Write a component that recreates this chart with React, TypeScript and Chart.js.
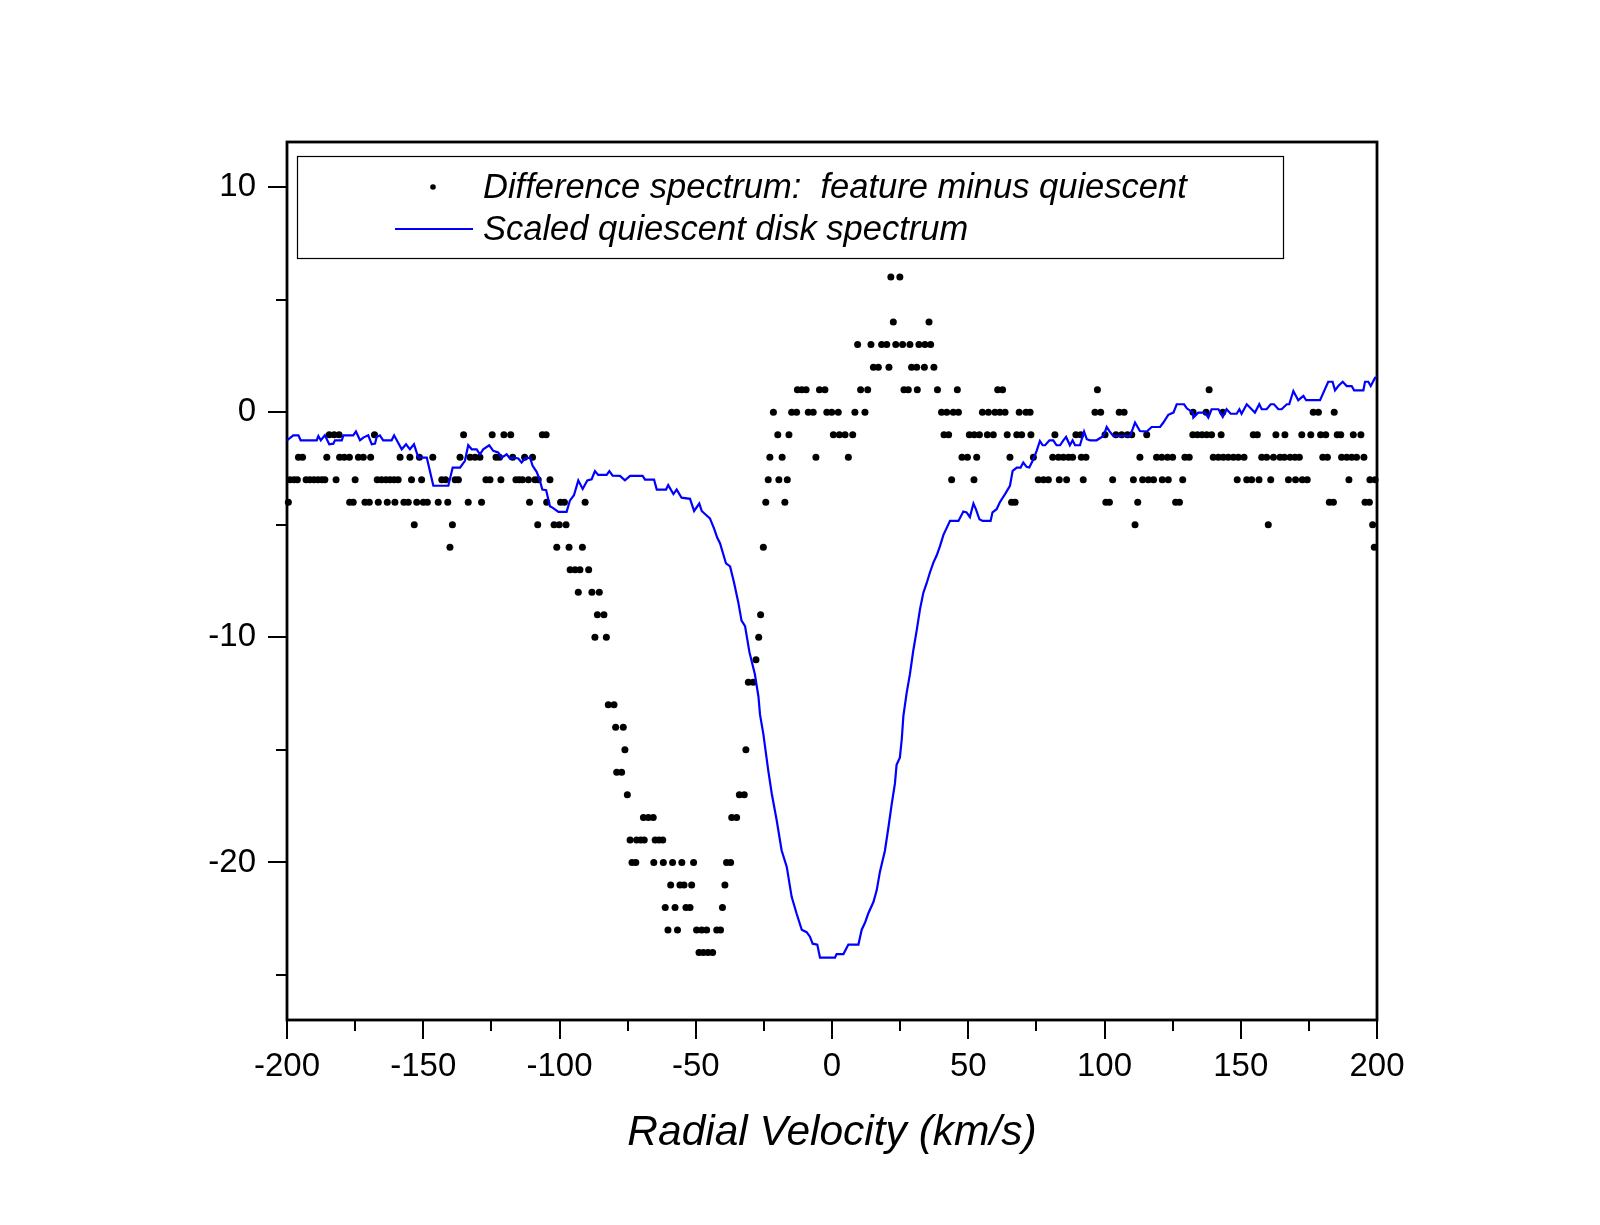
import React, { useEffect, useRef } from "react";
import { Chart, registerables } from "chart.js";

Chart.register(...registerables);

// ---------------- data ----------------
const xTickValues = [-200, -150, -100, -50, 0, 50, 100, 150, 200];
const xMinorTickValues = [-175, -125, -75, -25, 25, 75, 125, 175];
const yTickValues = [-20, -10, 0, 10];
const yMinorTickValues = [-25, -15, -5, 5];

const legendLabels = [
  "Difference spectrum:  feature minus quiescent",
  "Scaled quiescent disk spectrum",
];
const xAxisTitle = "Radial Velocity (km/s)";

// Difference spectrum (black dots): velocity (km/s)
const diffVelocity = [
  -199.5, -198.9, -197.4, -196.2, -195.8, -194.3, -193.0, -191.6, -190.1, -188.6,
  -187.2, -186.1, -185.4, -184.5, -182.7, -182.0, -180.9, -180.7, -179.0, -177.1,
  -177.0, -175.7, -175.0, -173.8, -172.0, -171.4, -169.8, -169.3, -167.9, -166.9,
  -166.5, -165.3, -163.7, -163.2, -162.2, -160.7, -160.4, -159.2, -158.5, -157.1,
  -155.5, -154.9, -154.3, -153.3, -152.4, -151.4, -150.6, -150.0, -148.5, -146.5,
  -144.5, -143.2, -141.8, -141.0, -140.2, -139.3, -138.3, -137.1, -136.5, -135.2,
  -133.5, -132.8, -131.0, -129.2, -128.6, -127.0, -125.5, -124.7, -123.3, -122.0,
  -121.5, -120.4, -117.9, -117.2, -116.0, -114.8, -113.6, -112.8, -111.4, -111.0,
  -109.9, -109.0, -108.0, -107.8, -106.3, -104.9, -104.7, -103.5, -102.0, -101.0,
  -100.1, -99.6, -98.2, -97.6, -96.5, -96.1, -94.3, -93.1, -92.5, -91.6,
  -90.6, -89.3, -88.1, -87.0, -86.1, -85.4, -83.7, -82.8, -82.1, -80.0,
  -79.4, -79.0, -77.2, -76.6, -76.0, -75.1, -74.1, -73.4, -72.0, -71.7,
  -70.2, -69.2, -68.9, -67.4, -65.6, -65.4, -64.9, -63.5, -62.1, -61.9,
  -61.2, -60.2, -59.2, -58.5, -57.6, -56.7, -55.8, -55.1, -54.3, -53.6,
  -52.1, -51.5, -50.8, -49.7, -48.8, -47.8, -47.2, -46.0, -45.5, -43.8,
  -42.3, -40.9, -40.2, -39.3, -38.7, -37.2, -36.8, -35.0, -34.0, -32.2,
  -31.6, -30.7, -28.9, -27.9, -26.9, -26.2, -25.2, -24.3, -23.4, -22.8,
  -21.5, -19.9, -19.5, -18.3, -17.3, -16.4, -15.8, -14.8, -13.0, -12.7,
  -11.1, -9.5, -8.7, -6.9, -5.9, -4.6, -2.6, -1.9, -0.1, 0.5,
  2.3, 2.7, 4.8, 6.0, 7.6, 8.4, 9.4, 10.5, 12.1, 13.1,
  14.3, 15.2, 17.0, 18.2, 20.1, 20.9, 21.6, 22.5, 23.4, 24.9,
  25.9, 26.4, 28.0, 28.6, 29.2, 31.1, 31.3, 31.9, 33.9, 34.1,
  35.6, 36.2, 37.4, 38.7, 40.2, 41.1, 42.1, 42.8, 43.9, 44.5,
  46.0, 46.4, 47.7, 49.7, 50.4, 52.1, 52.2, 53.1, 54.1, 55.2,
  57.0, 57.4, 59.2, 59.8, 60.8, 61.6, 62.6, 63.5, 64.3, 65.3,
  65.9, 67.2, 67.8, 68.7, 69.6, 71.2, 72.7, 73.0, 73.9, 75.7,
  77.6, 79.4, 81.0, 81.8, 83.1, 83.4, 84.9, 86.1, 86.8, 88.3,
  89.5, 91.3, 91.5, 92.2, 93.2, 96.5, 97.4, 98.6, 100.2, 100.5,
  101.8, 103.0, 104.2, 105.4, 106.3, 107.2, 108.4, 110.0, 110.6, 111.2,
  112.2, 113.0, 114.0, 115.5, 116.1, 118.0, 119.1, 121.0, 121.2, 123.1,
  123.4, 125.0, 126.1, 127.5, 128.7, 129.5, 131.1, 132.4, 132.5, 134.1,
  135.8, 137.5, 137.3, 138.4, 139.3, 139.9, 141.8, 142.8, 143.4, 143.6,
  145.4, 147.3, 148.7, 149.1, 151.2, 152.2, 154.0, 154.6, 156.1, 156.7,
  157.7, 159.5, 160.1, 161.0, 162.0, 162.9, 164.4, 166.2, 166.0, 167.5,
  168.1, 169.9, 170.1, 171.5, 172.4, 172.6, 174.4, 175.7, 176.6, 178.5,
  179.3, 180.1, 181.2, 181.8, 182.5, 184.0, 184.3, 185.4, 186.7, 187.0,
  188.9, 189.7, 190.7, 191.3, 192.5, 194.1, 195.2, 195.6, 197.2, 197.4,
  198.4, 199.0, 199.3,
];
// Difference spectrum values
const diffValue = [
  -4, -3, -3, -3, -2, -2, -3, -3, -3, -3,
  -3, -3, -2, -1, -1, -3, -1, -2, -2, -2,
  -4, -4, -3, -2, -2, -4, -4, -2, -1, -3,
  -4, -3, -3, -4, -3, -3, -4, -3, -2, -4,
  -4, -2, -3, -5, -4, -2, -3, -4, -4, -2,
  -4, -3, -3, -4, -6, -5, -3, -3, -2, -1,
  -4, -2, -2, -2, -4, -3, -3, -1, -2, -2,
  -3, -1, -1, -2, -3, -3, -3, -2, -3, -4,
  -2, -3, -5, -3, -1, -1, -4, -3, -5, -6,
  -5, -4, -4, -5, -6, -7, -7, -8, -7, -6,
  -4, -7, -8, -10, -9, -8, -9, -10, -13, -13,
  -14, -16, -16, -14, -15, -17, -19, -20, -20, -19,
  -19, -18, -19, -18, -18, -20, -19, -19, -19, -20,
  -22, -23, -21, -20, -22, -23, -21, -20, -21, -22,
  -22, -21, -20, -23, -24, -23, -24, -23, -24, -24,
  -23, -23, -22, -21, -20, -20, -18, -18, -17, -17,
  -15, -12, -12, -11, -10, -9, -6, -4, -3, -2,
  0, -1, -3, -2, -4, -3, -1, 0, 0, 1,
  1, 1, 0, 0, -2, 1, 1, 0, 0, -1,
  0, -1, -1, -2, -1, 0, 3, 1, 0, 1,
  3, 2, 2, 3, 3, 2, 6, 4, 3, 6,
  3, 1, 1, 3, 2, 2, 1, 3, 2, 3,
  4, 3, 2, 1, 0, -1, 0, -1, -3, 0,
  1, 0, -2, -2, -1, -3, -1, -2, -1, 0,
  -1, 0, -1, 0, 1, 0, 1, 0, -1, -2,
  -4, -4, -1, 0, -1, 0, 0, -1, -2, -3,
  -3, -3, -2, -1, -2, -3, -2, -3, -2, -2,
  -1, -1, -2, -3, -2, 0, 1, 0, -1, -4,
  -4, -3, -1, 0, -1, 0, -1, -1, -3, -5,
  -4, -2, -3, -1, -3, -3, -2, -2, -3, -2,
  -3, -2, -4, -4, -3, -2, -2, -1, 0, -1,
  -1, -1, 0, 1, -1, -2, -2, -1, 0, -2,
  -2, -2, -3, -2, -2, -3, -3, -1, -1, -3,
  -2, -2, -5, -3, -2, -1, -2, -1, -2, -3,
  -2, -2, -3, -2, -1, -3, -3, -1, 0, 0,
  -1, -2, -1, -2, -4, -4, 0, -1, -1, -2,
  -2, -3, -2, -1, -2, -1, -2, -4, -4, -3,
  -5, -6, -3,
];

// Scaled quiescent disk spectrum (blue line)
const quiescentVelocity = [
  -200.0, -197.7, -195.8, -195.0, -189.1, -188.5, -187.6, -186.1, -184.5, -183.0,
  -182.4, -179.9, -179.3, -175.7, -174.7, -173.2, -172.0, -170.2, -168.9, -167.7,
  -167.1, -165.9, -164.7, -161.6, -160.7, -157.9, -156.3, -154.9, -153.4, -151.8,
  -148.7, -146.3, -140.8, -139.2, -136.5, -134.7, -133.5, -132.2, -130.4, -129.2,
  -128.0, -125.8, -124.3, -122.5, -121.2, -119.4, -118.2, -116.9, -115.1, -113.9,
  -112.7, -110.8, -109.9, -108.4, -107.4, -106.3, -104.9, -103.5, -102.3, -100.4,
  -97.4, -96.2, -94.7, -93.1, -91.5, -89.8, -88.2, -87.0, -85.8, -82.7,
  -81.7, -80.5, -77.8, -76.0, -74.1, -69.5, -68.6, -65.3, -64.3, -60.9,
  -60.1, -58.2, -57.0, -55.2, -52.1, -50.6, -48.7, -47.8, -46.0, -44.8,
  -43.3, -42.1, -41.1, -38.9, -37.4, -36.0, -34.4, -33.2, -31.9, -30.3,
  -28.3, -27.0, -26.4, -25.2, -23.4, -22.1, -20.3, -18.5, -16.6, -14.8,
  -13.0, -11.1, -9.3, -8.1, -7.1, -5.4, -4.4, 1.1, 1.7, 4.2,
  6.0, 9.7, 10.9, 12.1, 13.3, 15.2, 16.4, 17.6, 19.4, 20.7,
  21.9, 23.1, 23.7, 24.9, 25.6, 26.2, 27.4, 28.6, 29.8, 31.1,
  32.3, 33.5, 34.7, 36.0, 37.2, 38.4, 39.6, 40.9, 42.1, 43.3,
  46.4, 48.2, 49.4, 50.6, 51.9, 52.8, 54.1, 55.3, 58.2, 58.9,
  60.4, 61.6, 63.5, 65.3, 66.3, 67.8, 69.2, 70.2, 71.4, 72.4,
  73.9, 75.1, 76.3, 77.3, 78.2, 79.8, 81.2, 82.4, 83.7, 84.9,
  85.9, 87.3, 88.3, 89.2, 91.0, 92.5, 93.5, 94.7, 97.1, 99.6,
  100.8, 101.8, 103.2, 109.4, 111.2, 113.0, 115.5, 117.3, 120.4, 121.6,
  123.4, 125.3, 126.5, 129.2, 130.2, 132.4, 132.6, 134.4, 136.9, 138.1,
  139.3, 141.8, 143.4, 144.8, 146.3, 148.5, 149.5, 150.3, 152.2, 154.0,
  155.2, 156.8, 157.7, 159.5, 161.0, 162.2, 163.8, 165.0, 166.9, 167.8,
  169.3, 171.1, 173.0, 174.0, 179.1, 182.1, 183.7, 184.6, 185.8, 187.4,
  188.9, 190.7, 191.6, 195.0, 195.6, 196.8, 197.7, 199.3, 200.0,
];
const quiescentValue = [
  -1.25, -1.03, -1.03, -1.25, -1.25, -1.06, -1.25, -1.03, -1.43, -1.40,
  -1.25, -1.25, -1.03, -1.03, -0.86, -1.25, -1.13, -1.03, -1.43, -1.40,
  -1.10, -1.03, -1.25, -1.25, -1.03, -1.65, -1.43, -1.65, -1.43, -2.02,
  -2.02, -3.27, -3.27, -2.46, -2.46, -2.16, -1.47, -1.65, -1.65, -1.87,
  -1.65, -1.47, -1.72, -1.79, -2.02, -1.87, -2.06, -2.02, -2.06, -2.24,
  -2.06, -2.02, -2.37, -2.65, -2.95, -3.44, -3.47, -4.18, -4.26, -4.43,
  -4.43, -3.93, -3.69, -3.03, -3.41, -3.03, -2.98, -2.62, -2.79, -2.79,
  -2.62, -2.82, -2.83, -3.03, -2.83, -2.83, -3.00, -3.00, -3.44, -3.44,
  -3.24, -3.64, -3.44, -3.80, -3.85, -4.39, -4.06, -4.39, -4.59, -4.72,
  -5.16, -5.58, -5.82, -6.72, -6.85, -7.54, -8.44, -9.26, -9.51, -10.66,
  -11.64, -12.63, -13.45, -14.29, -15.91, -16.95, -18.13, -19.46, -20.20, -21.53,
  -22.27, -22.99, -23.10, -23.30, -23.61, -23.65, -24.23, -24.23, -24.07, -24.07,
  -23.65, -23.65, -22.99, -22.68, -22.27, -21.76, -21.24, -20.41, -19.49, -18.45,
  -17.42, -16.49, -15.66, -15.35, -14.53, -13.49, -12.47, -11.64, -10.61, -9.68,
  -8.75, -8.03, -7.61, -7.10, -6.68, -6.37, -5.96, -5.45, -5.14, -4.83,
  -4.83, -4.41, -4.45, -4.66, -4.06, -4.31, -4.76, -4.83, -4.83, -4.45,
  -4.31, -4.00, -3.64, -3.27, -2.61, -2.46, -2.46, -2.24, -2.43, -2.46,
  -2.09, -1.72, -1.28, -1.47, -1.47, -1.25, -1.25, -1.47, -1.47, -1.25,
  -1.10, -1.47, -1.25, -1.47, -1.47, -0.86, -1.20, -1.25, -1.25, -1.06,
  -0.66, -0.84, -1.06, -1.06, -0.46, -0.84, -0.86, -0.66, -0.66, -0.46,
  -0.12, -0.02, 0.35, 0.35, 0.17, -0.02, -0.24, -0.02, -0.02, -0.24,
  0.13, 0.13, -0.21, 0.13, -0.07, -0.07, 0.13, -0.07, 0.35, 0.13,
  -0.02, 0.35, 0.13, 0.13, 0.35, 0.35, 0.13, 0.13, 0.35, 0.35,
  0.94, 0.53, 0.72, 0.53, 0.53, 1.35, 1.35, 0.97, 1.16, 1.35,
  1.16, 1.16, 0.97, 0.97, 1.35, 1.35, 1.16, 1.53, 1.55,
];

// ---------------- styles ----------------
const FONT = "'Liberation Sans', Arial, Helvetica, sans-serif";
const TEXT_COLOR = "#000000";
const LINE_BLUE = "#0000ff";

const frameAndLegendPlugin = {
  id: "frameAndLegend",
  beforeDatasetsDraw(chart: any) {
    const { ctx, chartArea: a, scales } = chart;
    const xs = scales.x;
    const ys = scales.y;
    ctx.save();
    ctx.strokeStyle = "#000";
    ctx.lineCap = "butt";
    ctx.lineWidth = 2;
    ctx.beginPath();
    for (const v of xTickValues) {
      const p = Math.round(xs.getPixelForValue(v));
      ctx.moveTo(p, a.bottom);
      ctx.lineTo(p, a.bottom + 19);
    }
    for (const v of xMinorTickValues) {
      const p = Math.round(xs.getPixelForValue(v));
      ctx.moveTo(p, a.bottom);
      ctx.lineTo(p, a.bottom + 11);
    }
    for (const v of yTickValues) {
      const p = Math.round(ys.getPixelForValue(v));
      ctx.moveTo(a.left, p);
      ctx.lineTo(a.left - 19, p);
    }
    for (const v of yMinorTickValues) {
      const p = Math.round(ys.getPixelForValue(v));
      ctx.moveTo(a.left, p);
      ctx.lineTo(a.left - 11, p);
    }
    ctx.stroke();
    ctx.lineWidth = 2.8;
    ctx.strokeRect(a.left, a.top, a.right - a.left, a.bottom - a.top);
    ctx.restore();
  },
  afterDraw(chart: any) {
    const { ctx, chartArea: a } = chart;
    ctx.save();
    // legend box
    ctx.strokeStyle = "#000";
    ctx.lineWidth = 1.2;
    ctx.strokeRect(a.left + 10.5, a.top + 14.5, 986, 102);
    // marker 1: dot
    ctx.fillStyle = "#000";
    ctx.beginPath();
    ctx.arc(a.left + 146, a.top + 45, 2.8, 0, Math.PI * 2);
    ctx.fill();
    // marker 2: blue line
    ctx.strokeStyle = LINE_BLUE;
    ctx.lineWidth = 2;
    ctx.beginPath();
    ctx.moveTo(a.left + 108, a.top + 87);
    ctx.lineTo(a.left + 186, a.top + 87);
    ctx.stroke();
    // texts
    ctx.fillStyle = TEXT_COLOR;
    ctx.font = `italic 34.5px ${FONT}`;
    ctx.textBaseline = "alphabetic";
    ctx.textAlign = "left";
    ctx.fillText(legendLabels[0], a.left + 196, a.top + 56);
    ctx.fillText(legendLabels[1], a.left + 196, a.top + 98);
    ctx.restore();
  },
};

export default function App() {
  const canvasRef = useRef<HTMLCanvasElement | null>(null);

  useEffect(() => {
    const canvas = canvasRef.current;
    if (!canvas) return;
    const dots = diffVelocity.map((x, i) => ({ x, y: diffValue[i] }));
    const line = quiescentVelocity.map((x, i) => ({ x, y: quiescentValue[i] }));

    const chart = new Chart(canvas, {
      type: "scatter",
      data: {
        datasets: [
          {
            label: legendLabels[1],
            data: line,
            showLine: true,
            borderColor: LINE_BLUE,
            backgroundColor: LINE_BLUE,
            borderWidth: 2.2,
            pointRadius: 0,
            pointHoverRadius: 0,
            tension: 0,
            order: 0,
          } as any,
          {
            label: legendLabels[0],
            data: dots,
            showLine: false,
            backgroundColor: "#000",
            borderColor: "#000",
            borderWidth: 0,
            pointRadius: 3.5,
            pointHoverRadius: 3.5,
            order: 1,
            clip: 6,
          } as any,
        ],
      },
      options: {
        responsive: false,
        maintainAspectRatio: false,
        animation: false,
        devicePixelRatio: 1,
        events: [],
        layout: { padding: { top: 142, right: 223, bottom: 0, left: 0 } },
        plugins: {
          legend: { display: false },
          tooltip: { enabled: false },
          title: { display: false },
        },
        scales: {
          x: {
            type: "linear",
            min: -200,
            max: 200,
            afterBuildTicks: (s: any) => {
              s.ticks = xTickValues.map((value) => ({ value }));
            },
            afterFit: (s: any) => {
              s.height = 205;
            },
            grid: { display: false, drawTicks: false },
            border: { display: false },
            ticks: {
              padding: 27,
              color: TEXT_COLOR,
              maxRotation: 0,
              autoSkip: false,
              font: { family: FONT, size: 33 },
            },
            title: {
              display: true,
              text: xAxisTitle,
              color: TEXT_COLOR,
              font: { family: FONT, size: 42.5, style: "italic" },
              padding: { top: 0, bottom: 66 },
            },
          },
          y: {
            type: "linear",
            min: -27,
            max: 12,
            afterBuildTicks: (s: any) => {
              s.ticks = yTickValues.map((value) => ({ value }));
            },
            afterFit: (s: any) => {
              s.width = 287;
            },
            grid: { display: false, drawTicks: false },
            border: { display: false },
            ticks: {
              padding: 31,
              color: TEXT_COLOR,
              autoSkip: false,
              font: { family: FONT, size: 33 },
            },
          },
        },
      } as any,
      plugins: [frameAndLegendPlugin],
    });
    return () => chart.destroy();
  }, []);

  return (
    <div
      style={{
        position: "absolute",
        left: 0,
        top: 0,
        width: 1600,
        height: 1225,
        background: "#ffffff",
      }}
    >
      <canvas
        ref={canvasRef}
        width={1600}
        height={1225}
        style={{ width: 1600, height: 1225, display: "block" }}
      />
    </div>
  );
}
